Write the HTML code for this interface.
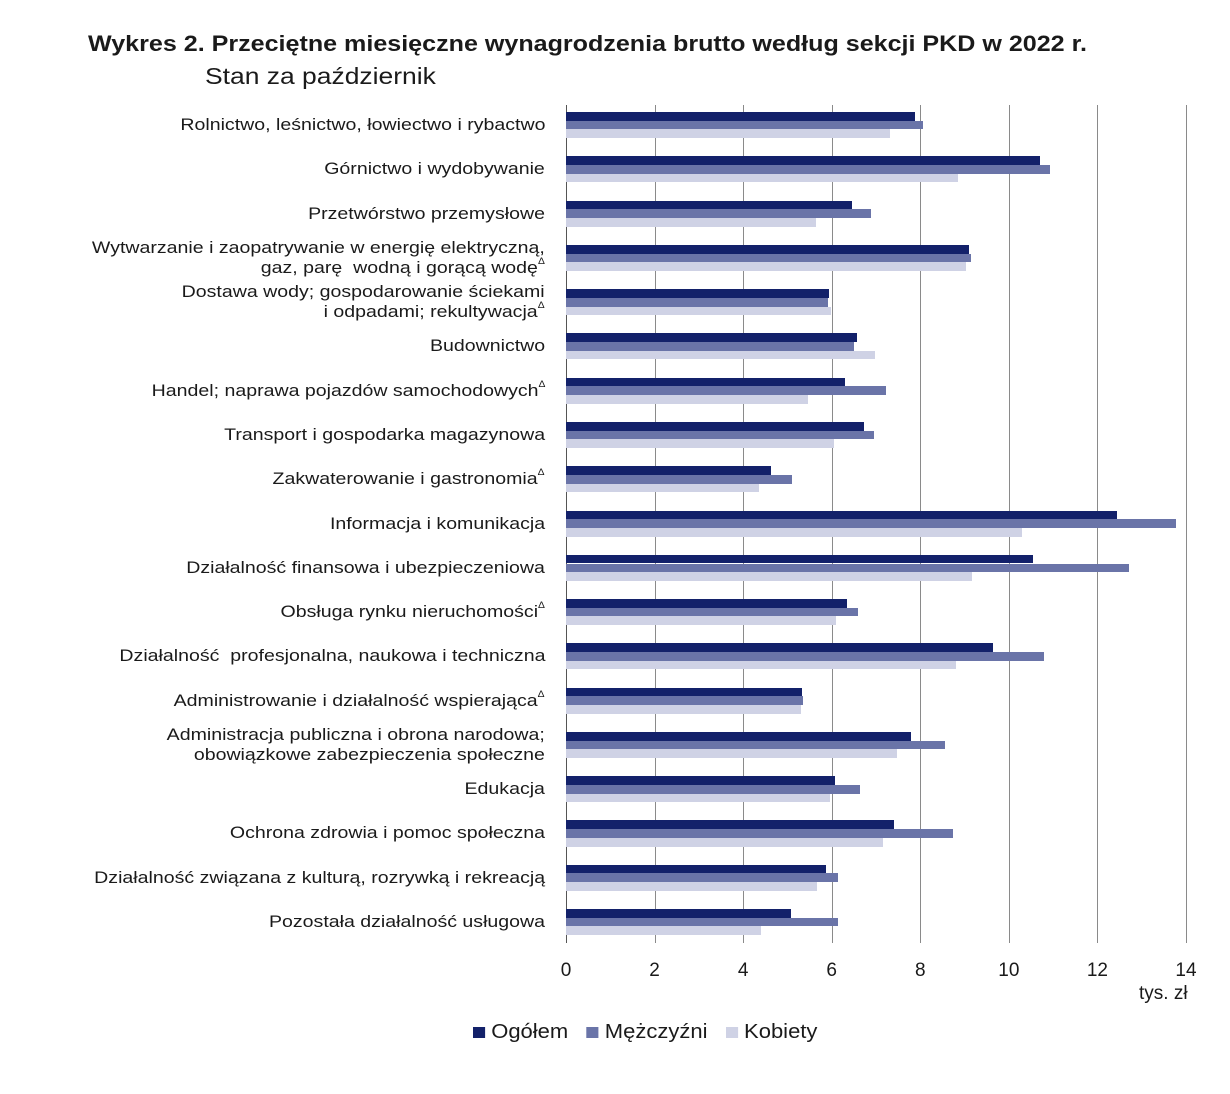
<!DOCTYPE html>
<html><head><meta charset="utf-8"><style>
body{margin:0;background:#fff;width:1230px;height:1094px;position:relative;font-family:"Liberation Sans",sans-serif;color:#1a1a1a;overflow:hidden}
.t{position:absolute;white-space:nowrap}
.lab{position:absolute;right:685px;text-align:right;font-size:17px;line-height:20px;white-space:nowrap;transform:scaleX(1.15);transform-origin:right center}
.b{position:absolute;left:566px;height:8.7px}
.o{background:#13216a}.m{background:#6a74a8}.k{background:#cfd2e5}
.g{position:absolute;top:105px;height:838px;width:1px;background:#8a8a8a}
.tick{position:absolute;top:960px;font-size:19px;transform:translateX(-50%)}
sup{font-size:9px;line-height:0;vertical-align:baseline;position:relative;top:-9px}
</style></head><body>
<div class="t" style="left:88px;top:31px;font-size:22px;font-weight:bold;transform:scaleX(1.14);transform-origin:left center">Wykres 2. Przeciętne miesięczne wynagrodzenia brutto według sekcji PKD w 2022 r.</div>
<div class="t" style="left:205px;top:63px;font-size:23px;transform:scaleX(1.15);transform-origin:left center">Stan za październik</div>
<div id="c"></div>
<script>
const d=[
["Rolnictwo, leśnictwo, łowiectwo i rybactwo",915,923,890],
["Górnictwo i wydobywanie",1040,1050,958],
["Przetwórstwo przemysłowe",852,871,816],
["Wytwarzanie i zaopatrywanie w energię elektryczną,<br>gaz, parę&nbsp; wodną i gorącą wodę<sup>Δ</sup>",969,971,966],
["Dostawa wody; gospodarowanie ściekami<br>i odpadami; rekultywacja<sup>Δ</sup>",829,828,831],
["Budownictwo",857,854,875],
["Handel; naprawa pojazdów samochodowych<sup>Δ</sup>",845,886,808],
["Transport i gospodarka magazynowa",864,874,834],
["Zakwaterowanie i gastronomia<sup>Δ</sup>",771,792,759],
["Informacja i komunikacja",1117,1176,1022],
["Działalność finansowa i ubezpieczeniowa",1033,1129,972],
["Obsługa rynku nieruchomości<sup>Δ</sup>",847,858,836],
["Działalność&nbsp; profesjonalna, naukowa i techniczna",993,1044,956],
["Administrowanie i działalność wspierająca<sup>Δ</sup>",802,803,801],
["Administracja publiczna i obrona narodowa;<br>obowiązkowe zabezpieczenia społeczne",911,945,897],
["Edukacja",835,860,830],
["Ochrona zdrowia i pomoc społeczna",894,953,883],
["Działalność związana z kulturą, rozrywką i rekreacją",826,838,817],
["Pozostała działalność usługowa",791,838,761]];
let h="";
for(let i=1;i<=7;i++){h+=`<div class="g" style="left:${566+i*88.57}px"></div>`;}
h+=`<div class="g" style="left:566px;background:#555"></div>`;
d.forEach((r,i)=>{const c=125+i*44.28;const two=r[0].includes("<br>");
h+=`<div class="lab" style="top:${c-(two?20:10)}px">${r[0]}</div>`;
["o","m","k"].forEach((cl,j)=>{h+=`<div class="b ${cl}" style="top:${c-13+j*8.7}px;width:${r[j+1]-566}px"></div>`;});});
for(let i=0;i<=7;i++)h+=`<div class="tick" style="left:${566+i*88.57}px">${i*2}</div>`;
h+=`<div class="t" style="left:1139px;top:983px;font-size:19px">tys. zł</div>`;
h+=`<div class="t" style="left:473px;top:1021px;font-size:20px;transform:scaleX(1.1);transform-origin:left center"><span style="display:inline-block;width:11px;height:11px;background:#13216a"></span> Ogółem&nbsp;&nbsp; <span style="display:inline-block;width:11px;height:11px;background:#6a74a8"></span> Mężczyźni&nbsp;&nbsp; <span style="display:inline-block;width:11px;height:11px;background:#cfd2e5"></span> Kobiety</div>`;
document.getElementById("c").innerHTML=h;
</script>
</body></html>
